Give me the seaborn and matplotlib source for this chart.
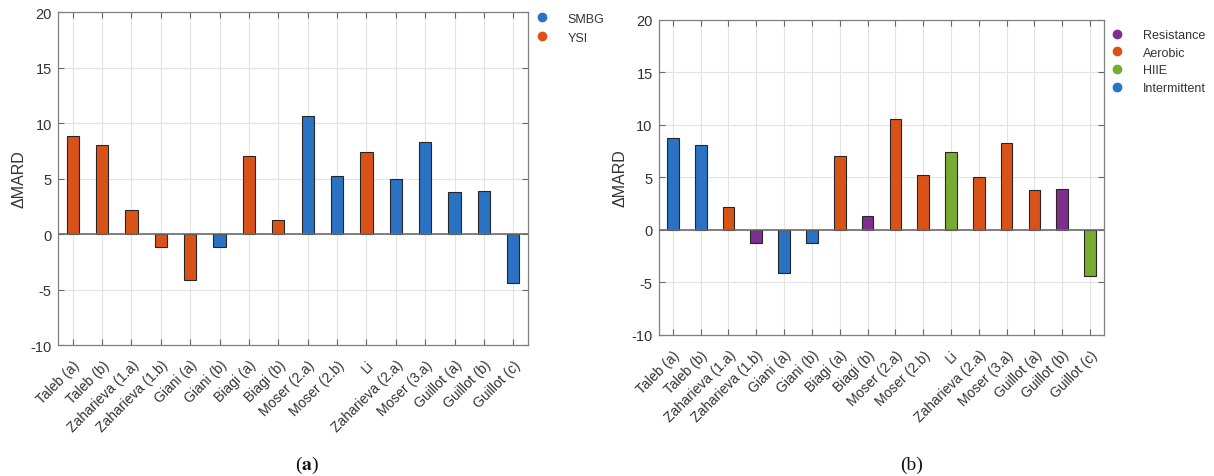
import matplotlib
matplotlib.use("Agg")
import matplotlib.pyplot as plt
from matplotlib.lines import Line2D
import seaborn as sns
import pandas as pd

studies = ["Taleb (a)", "Taleb (b)", "Zaharieva (1.a)", "Zaharieva (1.b)", "Giani (a)",
           "Giani (b)", "Biagi (a)", "Biagi (b)", "Moser (2.a)", "Moser (2.b)", "Li",
           "Zaharieva (2.a)", "Moser (3.a)", "Guillot (a)", "Guillot (b)", "Guillot (c)"]
delta_mard = [8.8, 8.05, 2.15, -1.2, -4.1, -1.2, 7.0, 1.3, 10.6, 5.2, 7.4,
              5.0, 8.3, 3.8, 3.9, -4.4]
reference = ["YSI", "YSI", "YSI", "YSI", "YSI", "SMBG", "YSI", "YSI", "SMBG", "SMBG",
             "YSI", "SMBG", "SMBG", "SMBG", "SMBG", "SMBG"]
exercise = ["Intermittent", "Intermittent", "Aerobic", "Resistance", "Intermittent",
            "Intermittent", "Aerobic", "Resistance", "Aerobic", "Aerobic", "HIIE",
            "Aerobic", "Aerobic", "Aerobic", "Resistance", "HIIE"]
ref_order = ["SMBG", "YSI"]
ex_order = ["Resistance", "Aerobic", "HIIE", "Intermittent"]
ref_colors = {"SMBG": "#2a72c4", "YSI": "#d95319"}
ex_colors = {"Resistance": "#7e2f8e", "Aerobic": "#d95319", "HIIE": "#77ac30",
             "Intermittent": "#2a72c4"}
yticks = [-10, -5, 0, 5, 10, 15, 20]

df = pd.DataFrame({"study": studies, "dmard": delta_mard,
                   "reference": reference, "exercise": exercise})

sns.set_theme(style="white")
plt.rcParams["font.family"] = ["Liberation Sans", "DejaVu Sans"]
plt.rcParams["axes.unicode_minus"] = False
plt.rcParams["mathtext.fontset"] = "stix"

fig = plt.figure(figsize=(12.14, 4.77), dpi=100)
axa = fig.add_axes([0.0478, 0.2746, 0.3871, 0.6981])
axb = fig.add_axes([0.5428, 0.2956, 0.3666, 0.6604])


def draw(ax, hue, order, palette):
    sns.barplot(data=df, x="study", y="dmard", hue=hue, hue_order=order,
                palette=palette, dodge=False, width=0.42, order=studies,
                saturation=1, edgecolor="#262626", linewidth=0.8, legend=False,
                ax=ax, zorder=3)
    ax.set_ylim(-10, 20)
    ax.set_yticks(yticks)
    ax.set_xlim(-0.5, len(studies) - 0.5)
    ax.set_xticks(range(len(studies)))
    ax.set_xticklabels(studies, rotation=45, ha="right", rotation_mode="anchor",
                       fontsize=10, color="#333333")
    ax.tick_params(axis="y", labelsize=10.5, labelcolor="#333333", pad=4.5)
    ax.tick_params(axis="x", pad=9)
    ax.tick_params(direction="in", top=True, right=True, bottom=True, left=True,
                   length=4, color="#666666", width=0.8)
    ax.grid(True, color="#e3e3e3", linewidth=0.8, zorder=0)
    ax.set_axisbelow(True)
    ax.axhline(0, color="#6b6b6b", linewidth=1.2, zorder=4)
    ax.set_xlabel("")
    ax.set_ylabel("ΔMARD", fontsize=11.5, color="#333333", labelpad=3)
    for s in ax.spines.values():
        s.set_color("#808080")
        s.set_linewidth(0.9)
    handles = [Line2D([], [], marker="o", linestyle="", markersize=6,
                      markerfacecolor=palette[k], markeredgecolor=palette[k], label=k)
               for k in order]
    return handles


ha = draw(axa, "reference", ref_order, ref_colors)
axa.legend(handles=ha, loc="upper left", bbox_to_anchor=(1.006, 1.013), frameon=False,
           fontsize=9, handlelength=1.0, handletextpad=1.55, labelspacing=0.55,
           borderaxespad=0, labelcolor="#333333")
hb = draw(axb, "exercise", ex_order, ex_colors)
axb.legend(handles=hb, loc="upper left", bbox_to_anchor=(1.004, 0.987), frameon=False,
           fontsize=9, handlelength=1.0, handletextpad=1.55, labelspacing=0.45,
           borderaxespad=0, labelcolor="#333333")

fig.text(307 / 1214, 1 - 465 / 477, r"($\mathbf{a}$)", ha="center", va="center",
         fontsize=14, family="Liberation Serif", color="#111111")
fig.text(912 / 1214, 1 - 465 / 477, r"(b)", ha="center", va="center",
         fontsize=14, family="Liberation Serif", color="#111111")

fig.savefig("out.png", dpi=100, facecolor="white")
